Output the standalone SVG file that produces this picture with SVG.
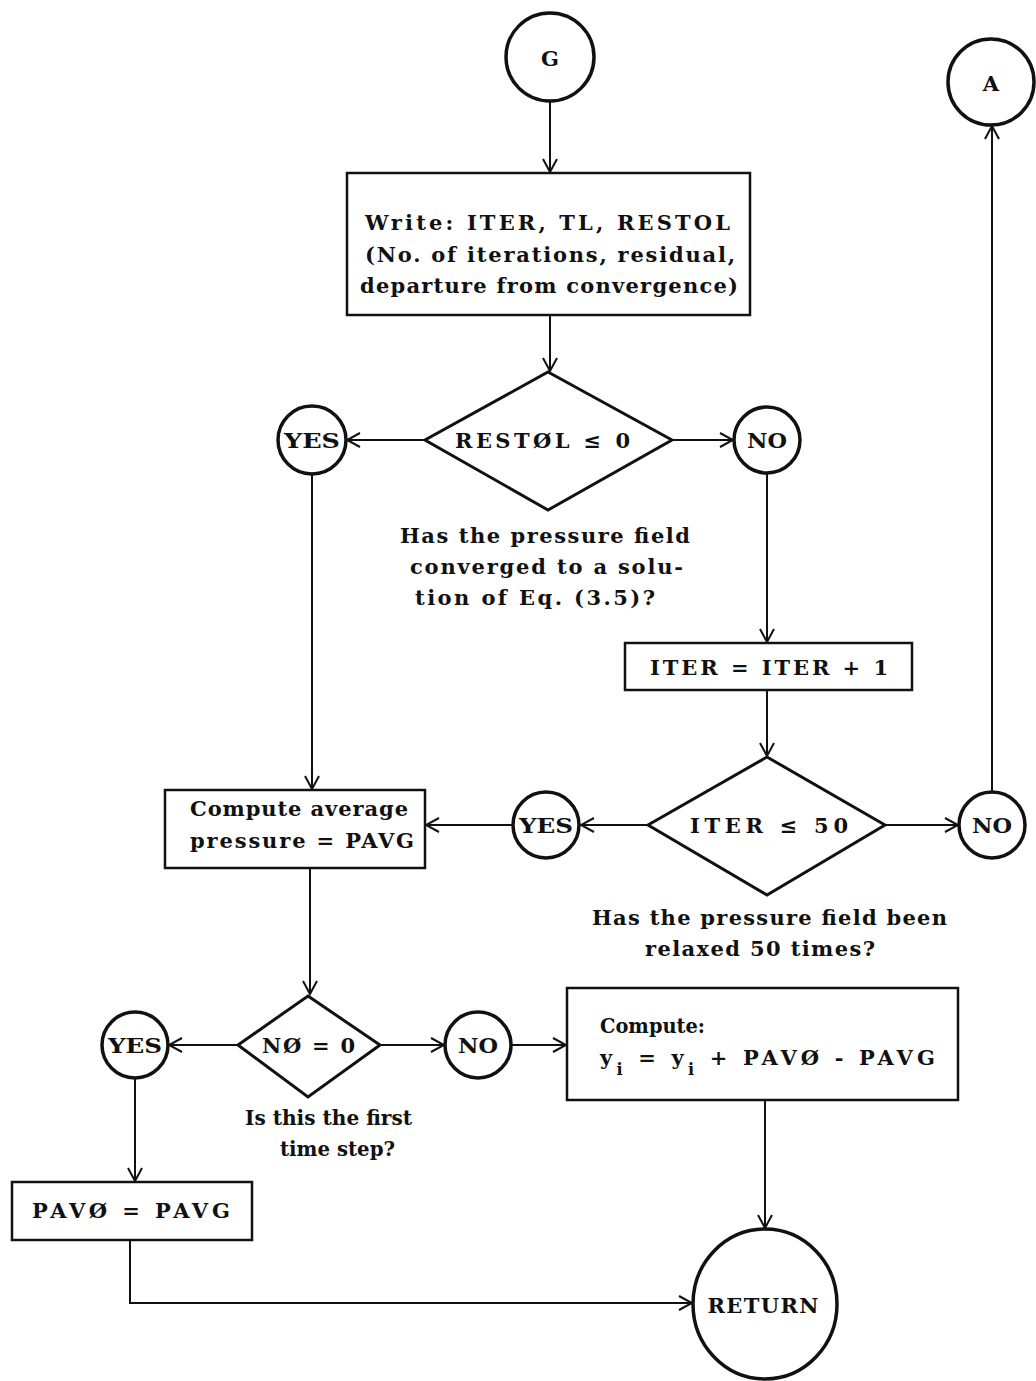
<svg xmlns="http://www.w3.org/2000/svg" width="1036" height="1381" viewBox="0 0 1036 1381">
<defs>
<style>
text{font-family:"DejaVu Serif","Liberation Serif",serif;font-weight:bold;font-size:21px;fill:#111;text-anchor:middle}
.l{text-anchor:start}
.box{fill:#fff;stroke:#111;stroke-width:2.5}
.circ{fill:#fff;stroke:#111;stroke-width:3.5}
.dia{fill:#fff;stroke:#111;stroke-width:3}
.con{fill:none;stroke:#111;stroke-width:2}
</style>
<marker id="arr" markerUnits="userSpaceOnUse" markerWidth="16" markerHeight="16" refX="14" refY="8" orient="auto">
<path d="M1,1 L14,8 L1,15" fill="none" stroke="#111" stroke-width="2"/>
</marker>
</defs>
<rect width="1036" height="1381" fill="#fff"/>
<g id="connectors">
<path class="con" d="M550,101 L550,172" marker-end="url(#arr)"/>
<path class="con" d="M550,315 L550,371" marker-end="url(#arr)"/>
<path class="con" d="M425,440 L347,440" marker-end="url(#arr)"/>
<path class="con" d="M672,440 L733,440" marker-end="url(#arr)"/>
<path class="con" d="M312,474 L312,789" marker-end="url(#arr)"/>
<path class="con" d="M767,473 L767,642" marker-end="url(#arr)"/>
<path class="con" d="M767,690 L767,756" marker-end="url(#arr)"/>
<path class="con" d="M648,825 L581,825" marker-end="url(#arr)"/>
<path class="con" d="M513,825 L426,825" marker-end="url(#arr)"/>
<path class="con" d="M885,825 L958,825" marker-end="url(#arr)"/>
<path class="con" d="M992,792 L992,126" marker-end="url(#arr)"/>
<path class="con" d="M310,868 L310,994" marker-end="url(#arr)"/>
<path class="con" d="M240,1045 L169,1045" marker-end="url(#arr)"/>
<path class="con" d="M378,1045 L444,1045" marker-end="url(#arr)"/>
<path class="con" d="M511,1045 L566,1045" marker-end="url(#arr)"/>
<path class="con" d="M135,1078 L135,1181" marker-end="url(#arr)"/>
<path class="con" d="M765,1100 L765,1228" marker-end="url(#arr)"/>
<path class="con" d="M130,1240 L130,1303 L692,1303" marker-end="url(#arr)"/>
</g>
<g id="G">
<circle class="circ" cx="550" cy="57" r="44"/>
<text x="550" y="66">G</text>
</g>
<g id="A">
<circle class="circ" cx="991" cy="82" r="43"/>
<text x="991" y="91">A</text>
</g>
<g id="write">
<rect class="box" x="347" y="173" width="403" height="142"/>
<text class="l" x="365" y="230" textLength="365" lengthAdjust="spacing">Write: ITER, TL, RESTOL</text>
<text class="l" x="365" y="262" textLength="370" lengthAdjust="spacing">(No. of iterations, residual,</text>
<text class="l" x="360" y="293" textLength="378" lengthAdjust="spacing">departure from convergence)</text>
</g>
<g id="d1">
<polygon class="dia" points="548,372 672,440 548,510 425,440"/>
<text class="l" x="455" y="448" textLength="175" lengthAdjust="spacing">RESTØL ≤ 0</text>
</g>
<g id="q1">
<text class="l" x="400" y="543" textLength="290" lengthAdjust="spacing">Has the pressure field</text>
<text class="l" x="410" y="574" textLength="273" lengthAdjust="spacing">converged to a solu-</text>
<text class="l" x="415" y="605" textLength="240" lengthAdjust="spacing">tion of Eq. (3.5)?</text>
</g>
<g id="yes1">
<circle class="circ" cx="312" cy="440" r="34"/>
<text x="312" y="448" textLength="56" lengthAdjust="spacingAndGlyphs">YES</text>
</g>
<g id="no1">
<circle class="circ" cx="767" cy="440" r="33"/>
<text x="767" y="448" textLength="40" lengthAdjust="spacingAndGlyphs">NO</text>
</g>
<g id="iterinc">
<rect class="box" x="625" y="643" width="287" height="47"/>
<text class="l" x="650" y="675" textLength="238" lengthAdjust="spacing">ITER = ITER + 1</text>
</g>
<g id="d2">
<polygon class="dia" points="767,757 885,825 767,895 648,825"/>
<text class="l" x="690" y="833" textLength="158" lengthAdjust="spacing">ITER ≤ 50</text>
</g>
<g id="q2">
<text class="l" x="592" y="925" textLength="355" lengthAdjust="spacing">Has the pressure field been</text>
<text class="l" x="645" y="956" textLength="230" lengthAdjust="spacing">relaxed 50 times?</text>
</g>
<g id="yes2">
<circle class="circ" cx="546" cy="825" r="33"/>
<text x="546" y="833" textLength="54" lengthAdjust="spacingAndGlyphs">YES</text>
</g>
<g id="no2">
<circle class="circ" cx="992" cy="825" r="33"/>
<text x="992" y="833" textLength="40" lengthAdjust="spacingAndGlyphs">NO</text>
</g>
<g id="avg">
<rect class="box" x="165" y="790" width="260" height="78"/>
<text class="l" x="190" y="816" textLength="218" lengthAdjust="spacing">Compute average</text>
<text class="l" x="190" y="848" textLength="224" lengthAdjust="spacing">pressure = PAVG</text>
</g>
<g id="d3">
<polygon class="dia" points="308,996 380,1045 308,1097 238,1045"/>
<text class="l" x="262" y="1053" textLength="93" lengthAdjust="spacing">NØ = 0</text>
</g>
<g id="q3">
<text class="l" x="245" y="1125" textLength="167" lengthAdjust="spacingAndGlyphs">Is this the first</text>
<text class="l" x="280" y="1156" textLength="115" lengthAdjust="spacingAndGlyphs">time step?</text>
</g>
<g id="yes3">
<circle class="circ" cx="135" cy="1045" r="33"/>
<text x="135" y="1053" textLength="54" lengthAdjust="spacingAndGlyphs">YES</text>
</g>
<g id="no3">
<circle class="circ" cx="478" cy="1045" r="33"/>
<text x="478" y="1053" textLength="40" lengthAdjust="spacingAndGlyphs">NO</text>
</g>
<g id="computey">
<rect class="box" x="567" y="988" width="391" height="112"/>
<text class="l" x="600" y="1033" textLength="105" lengthAdjust="spacingAndGlyphs">Compute:</text>
<text class="l" x="600" y="1065" textLength="335" lengthAdjust="spacing">y<tspan dy="10" font-size="16">i</tspan><tspan dy="-10"> = y</tspan><tspan dy="10" font-size="16">i</tspan><tspan dy="-10"> + PAVØ - PAVG</tspan></text>
</g>
<g id="pav0">
<rect class="box" x="12" y="1182" width="240" height="58"/>
<text class="l" x="32" y="1218" textLength="198" lengthAdjust="spacing">PAVØ = PAVG</text>
</g>
<g id="return">
<ellipse class="circ" cx="765" cy="1304" rx="72" ry="75"/>
<text x="763" y="1313" textLength="111" lengthAdjust="spacing">RETURN</text>
</g>
</svg>
